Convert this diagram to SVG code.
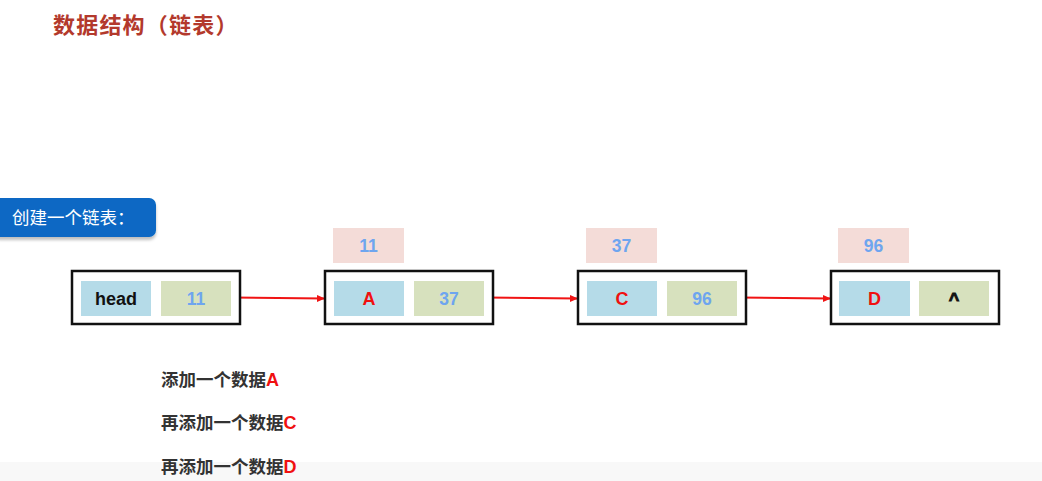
<svg xmlns="http://www.w3.org/2000/svg" width="1042" height="481" viewBox="0 0 1042 481">
<defs>
<style>
.cjk{font-family:"Noto Sans CJK SC","Liberation Sans",sans-serif;}
.lat{font-family:"Liberation Sans","Noto Sans CJK SC",sans-serif;font-weight:bold;}
.outer{fill:#fff;stroke:#111;stroke-width:2.5;}
.key{fill:#b5dbe8;}
.val{fill:#d7e1be;}
.pink{fill:#f4dcd8;}
.num{fill:#6ea5ef;font-size:17.5px;text-anchor:middle;}
.ltr{fill:#f01010;font-size:18px;text-anchor:middle;}
.blk{fill:#111;font-size:18px;text-anchor:middle;}
.step{fill:#333;font-size:17.5px;font-weight:bold;}
.conn{stroke:#f01414;stroke-width:2;fill:none;marker-end:url(#ah);}
</style>
<marker id="ah" markerWidth="8" markerHeight="8" refX="7" refY="4" orient="auto" markerUnits="userSpaceOnUse">
<path d="M0,0.5 L8,4 L0,7.5 z" fill="#f01414"/>
</marker>
<filter id="sh" x="-10%" y="-20%" width="120%" height="160%">
<feDropShadow dx="0" dy="3" stdDeviation="1.5" flood-color="#000" flood-opacity="0.25"/>
</filter>
</defs>
<rect width="1042" height="481" fill="#fff"/>
<rect x="0" y="462" width="1042" height="19" fill="#f8f8f8"/>

<text class="cjk" x="53" y="33" font-size="22" font-weight="bold" fill="#b3392c" letter-spacing="1.2">数据结构（链表）</text>

<g id="banner">
<rect x="-8" y="198" width="164" height="39" rx="7" fill="#0767c4" filter="url(#sh)"/>
<text class="cjk" x="12" y="224" font-size="17.5" fill="#fff">创建一个链表：</text>
</g>

<g id="connectors">
<line class="conn" x1="232" y1="297.5" x2="324" y2="298.5"/>
<line class="conn" x1="485" y1="297.5" x2="577" y2="298.5"/>
<line class="conn" x1="738" y1="297.5" x2="830" y2="298.5"/>
</g>

<g id="node-head">
<rect class="outer" x="72" y="271" width="168" height="53"/>
<rect class="key" x="81" y="281" width="70" height="35"/>
<rect class="val" x="161" y="281" width="70" height="35"/>
<text class="lat blk" x="116" y="305">head</text>
<text class="lat num" x="196" y="304.5">11</text>
</g>

<g id="node-A">
<rect class="pink" x="333" y="228" width="71" height="35"/>
<text class="lat num" x="368.5" y="251.5">11</text>
<rect class="outer" x="325" y="271" width="168" height="53"/>
<rect class="key" x="334" y="281" width="70" height="35"/>
<rect class="val" x="414" y="281" width="70" height="35"/>
<text class="lat ltr" x="369" y="305">A</text>
<text class="lat num" x="449" y="304.5">37</text>
</g>

<g id="node-C">
<rect class="pink" x="586" y="228" width="71" height="35"/>
<text class="lat num" x="621.5" y="251.5">37</text>
<rect class="outer" x="578" y="271" width="168" height="53"/>
<rect class="key" x="587" y="281" width="70" height="35"/>
<rect class="val" x="667" y="281" width="70" height="35"/>
<text class="lat ltr" x="622" y="305">C</text>
<text class="lat num" x="702" y="304.5">96</text>
</g>

<g id="node-D">
<rect class="pink" x="838" y="228" width="71" height="35"/>
<text class="lat num" x="873.5" y="251.5">96</text>
<rect class="outer" x="831" y="271" width="168" height="53"/>
<rect class="key" x="839" y="281" width="71" height="35"/>
<rect class="val" x="919" y="281" width="70" height="35"/>
<text class="lat ltr" x="874.5" y="305">D</text>
<text class="lat blk" x="954" y="306" font-size="32" stroke="#111" stroke-width="0.9">^</text>
</g>

<g id="steps">
<text class="cjk step" x="161" y="386">添加一个数据<tspan class="lat" fill="#f01010" font-size="18">A</tspan></text>
<text class="cjk step" x="161" y="429">再添加一个数据<tspan class="lat" fill="#f01010" font-size="18">C</tspan></text>
<text class="cjk step" x="161" y="473">再添加一个数据<tspan class="lat" fill="#f01010" font-size="18">D</tspan></text>
</g>
</svg>
